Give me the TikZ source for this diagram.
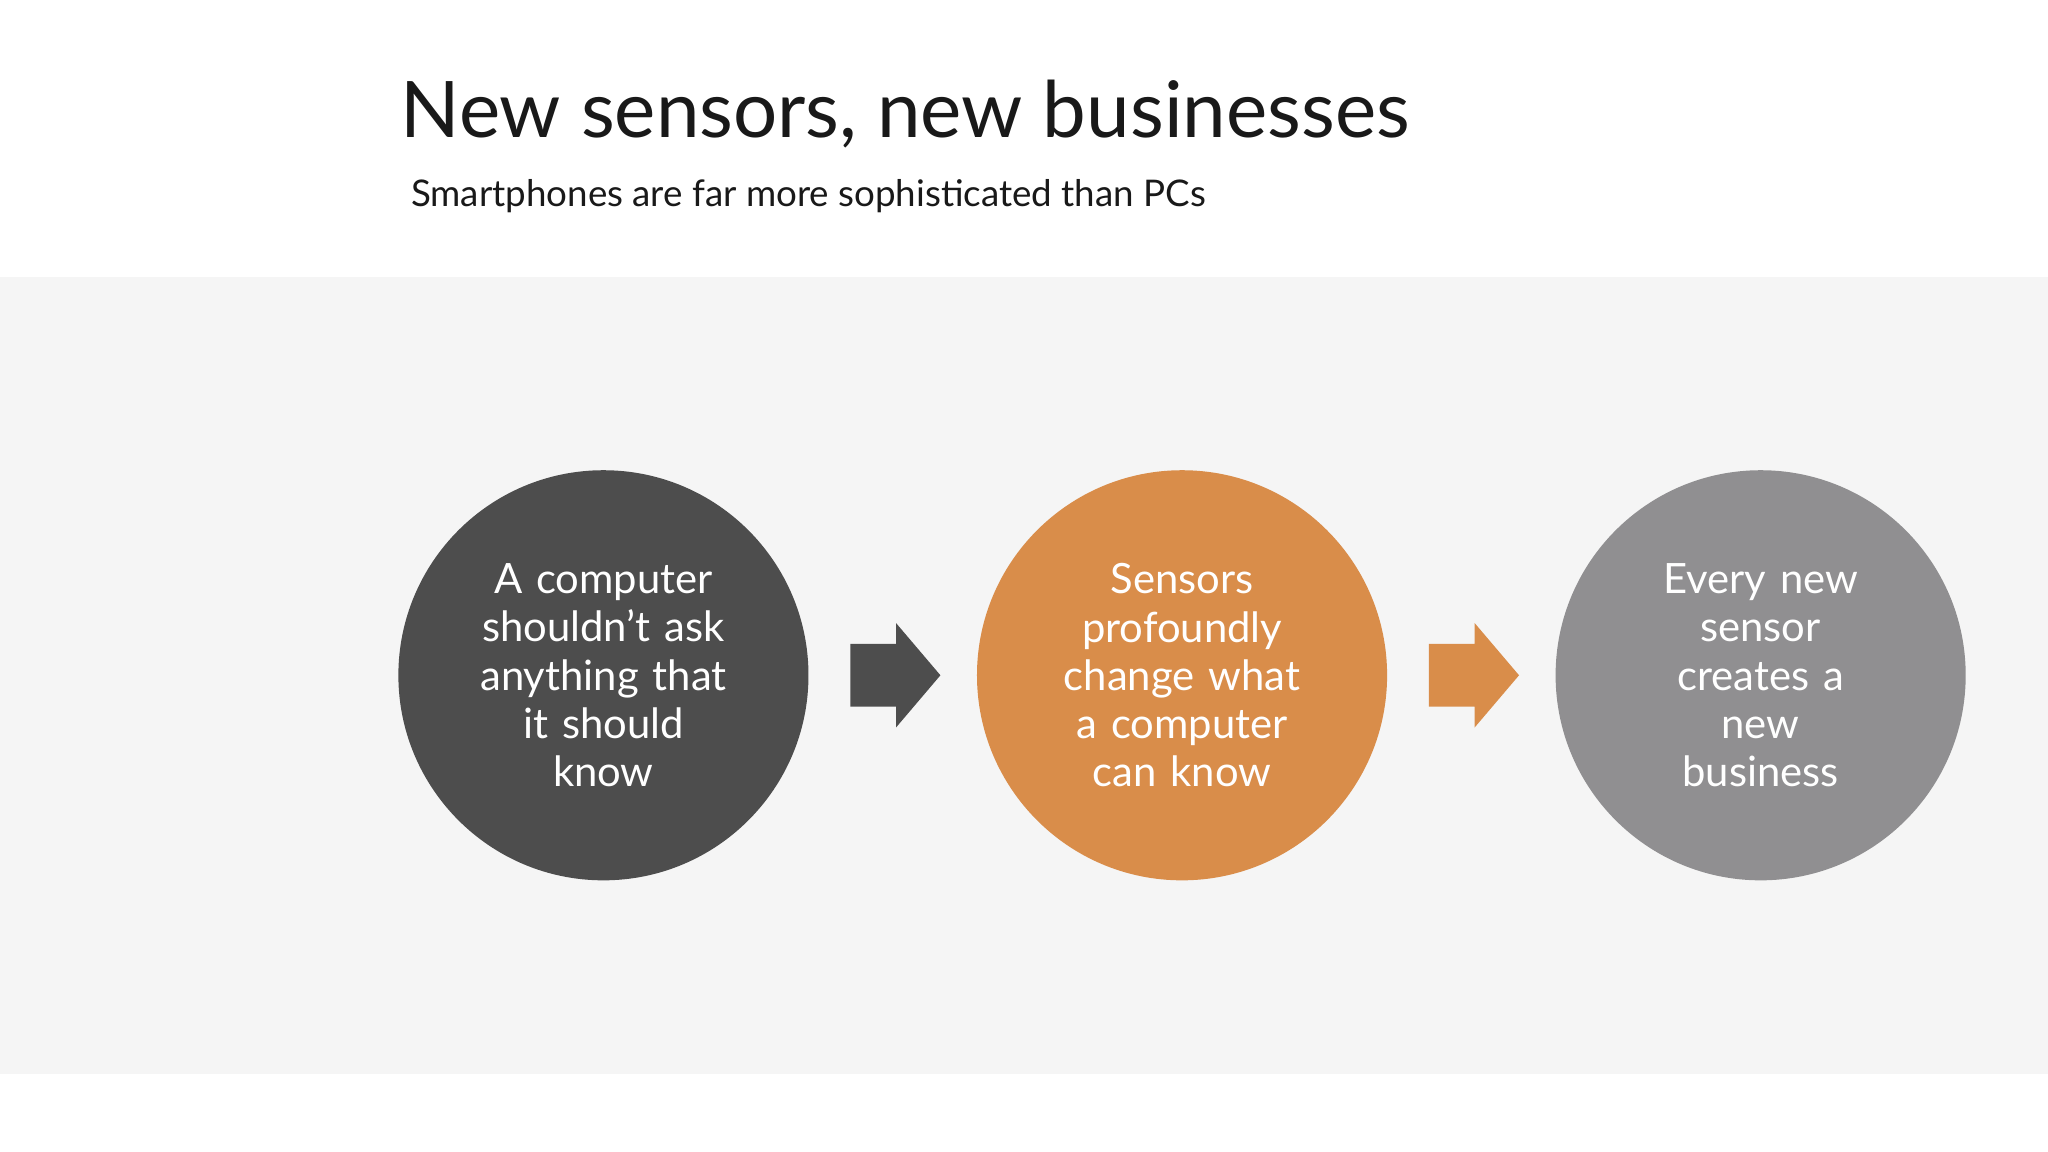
\documentclass[tikz,border=0pt]{standalone}
\usepackage{fontspec}
\setmainfont{Lato}
\definecolor{band}{HTML}{F5F5F5}
\definecolor{dark}{HTML}{4D4D4D}
\definecolor{orng}{HTML}{D98D4A}
\definecolor{gry}{HTML}{908F91}
\begin{document}
\begin{tikzpicture}[x=0.1mm,y=-0.1mm,
  circ/.style={circle,minimum size=31.4mm,inner sep=0pt,text=white,align=center,font=\fontsize{9.1}{10.5}\selectfont,text width=25mm},
  arr/.style={fill=#1}]
\useasboundingbox (0,0) rectangle (1568,882);
\fill[white] (0,0) rectangle (1568,882);
\fill[band] (0,212) rectangle (1568,822);
\node[anchor=base west,inner sep=0pt,font=\fontsize{17}{20}\selectfont,text=black!90] (title) at (306,105) {New sensors, new businesses};
\node[anchor=base west,inner sep=0pt,font=\fontsize{8}{10}\selectfont,text=black!90] (sub) at (314,158) {Smartphones are far more sophisticated than PCs};
\node[circ,fill=dark] (c1) at (462,517) {A computer\\shouldn’t ask\\anything that\\it should\\know};
\node[circ,fill=orng] (c2) at (905,517) {Sensors\\profoundly\\change what\\a computer\\can know};
\node[circ,fill=gry] (c3) at (1348,517) {Every new\\sensor\\creates a\\new\\business};
\fill[dark] (651,493) -- (686,493) -- (686,477) -- (720,517) -- (686,557) -- (686,541) -- (651,541) -- cycle;
\fill[orng] (1094,493) -- (1129,493) -- (1129,477) -- (1163,517) -- (1129,557) -- (1129,541) -- (1094,541) -- cycle;
\end{tikzpicture}
\end{document}
